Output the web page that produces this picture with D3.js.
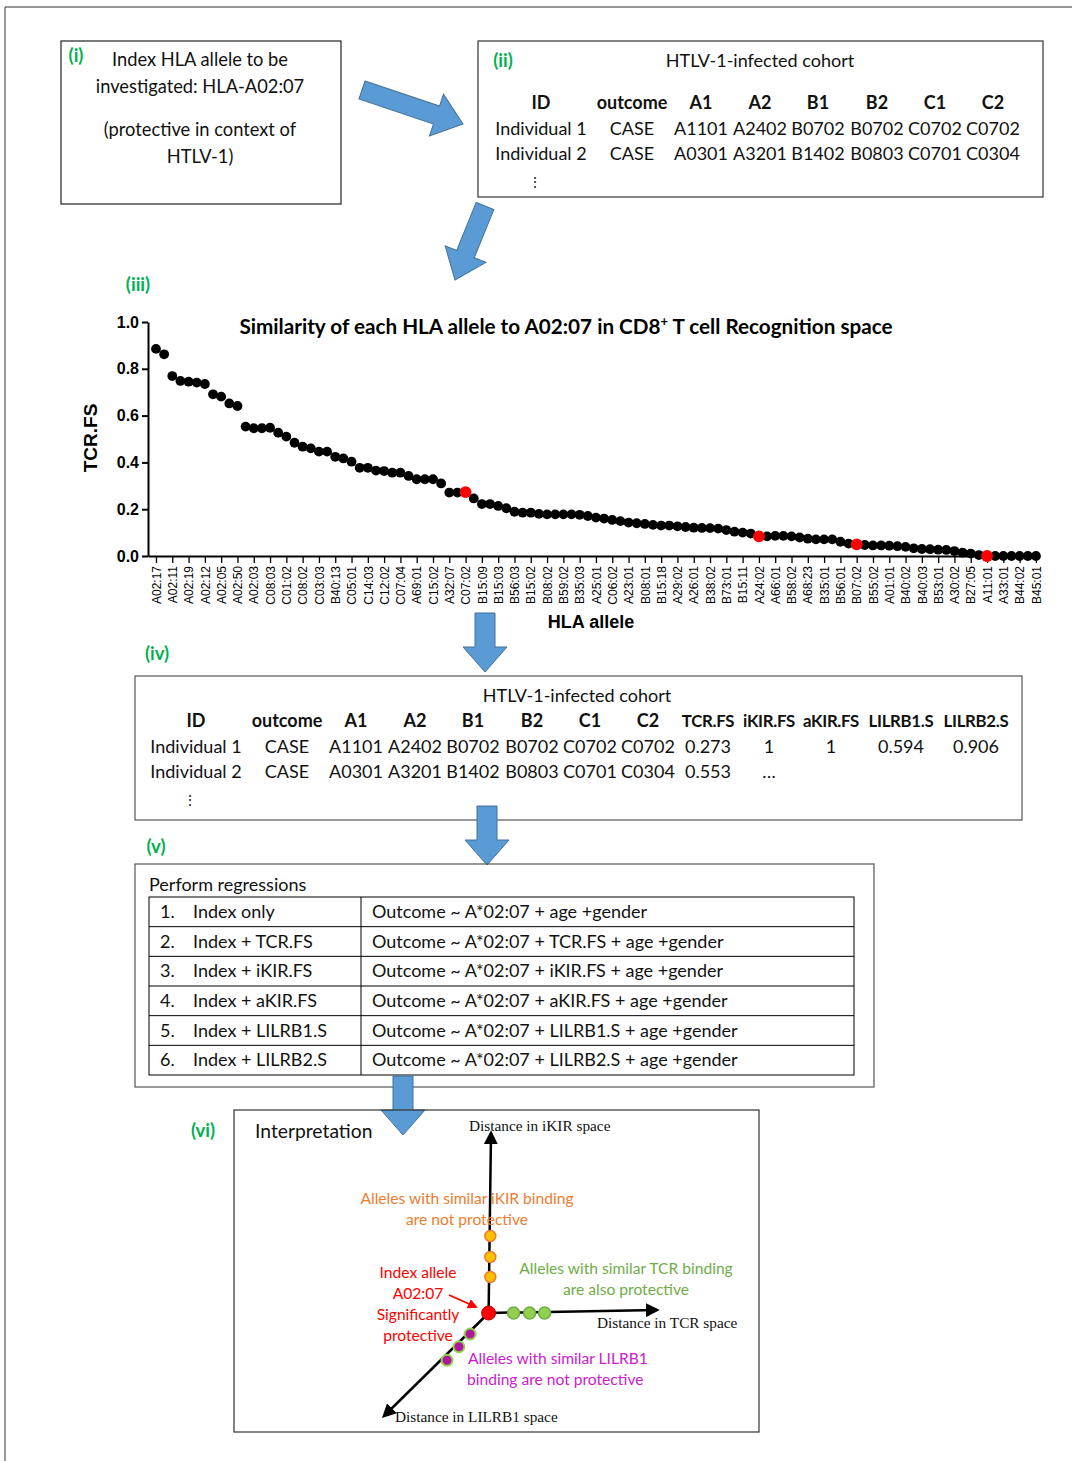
<!DOCTYPE html>
<html>
<head>
<meta charset="utf-8">
<script src="https://cdn.jsdelivr.net/npm/d3@7"></script>
<style>
  body { margin: 0; background: #fff; }
  svg { display: block; }
</style>
</head>
<body>
<div id="fig"></div>
<script>
// ---- data ----
// tick labels (one label every second allele on the x axis)
const alleleLabels = [
  "A02:17","A02:11","A02:19","A02:12","A02:05","A02:50","A02:03","C08:03","C01:02","C08:02",
  "C03:03","B40:13","C05:01","C14:03","C12:02","C07:04","A69:01","C15:02","A32:07","C07:02",
  "B15:09","B15:03","B56:03","B15:02","B08:02","B59:02","B35:03","A25:01","C06:02","A23:01",
  "B08:01","B15:18","A29:02","A26:01","B38:02","B73:01","B15:11","A24:02","A66:01","B58:02",
  "A68:23","B35:01","B56:01","B07:02","B55:02","A01:01","B40:02","B40:03","B53:01","A30:02",
  "B27:05","A11:01","A33:01","B44:02","B45:01"
];
// TCR.FS similarity to A02:07, one value per allele (sorted)
const tcrValues = [
  0.885,0.862,0.769,0.748,0.745,0.741,0.735,0.691,0.681,0.652,
  0.641,0.553,0.546,0.546,0.548,0.527,0.510,0.484,0.467,0.460,
  0.446,0.446,0.424,0.417,0.403,0.377,0.377,0.365,0.363,0.356,
  0.356,0.342,0.328,0.328,0.328,0.310,0.271,0.271,0.273,0.246,
  0.222,0.222,0.214,0.204,0.189,0.185,0.185,0.180,0.178,0.178,
  0.178,0.178,0.176,0.171,0.164,0.160,0.154,0.149,0.143,0.140,
  0.137,0.133,0.130,0.130,0.127,0.124,0.121,0.120,0.119,0.117,
  0.111,0.104,0.100,0.096,0.084,0.084,0.086,0.086,0.084,0.079,
  0.074,0.071,0.071,0.071,0.061,0.053,0.050,0.047,0.045,0.045,
  0.044,0.042,0.039,0.033,0.030,0.029,0.027,0.026,0.021,0.014,
  0.010,0.004,0.000,0.000,0.000,0.000,0.000,0.000,0.000
];
// alleles drawn in red
const highlighted = ["C07:02","A24:02","B07:02","A11:01"];
const yTicks = [0, 0.2, 0.4, 0.6, 0.8, 1.0];

const cohortCols = ["ID","outcome","A1","A2","B1","B2","C1","C2"];
const cohortRows = [
  ["Individual 1","CASE","A1101","A2402","B0702","B0702","C0702","C0702"],
  ["Individual 2","CASE","A0301","A3201","B1402","B0803","C0701","C0304"]
];
const scoreCols = ["TCR.FS","iKIR.FS","aKIR.FS","LILRB1.S","LILRB2.S"];
const scoreRows = [
  ["0.273","1","1","0.594","0.906"],
  ["0.553","…","","",""]
];
const modelNames = ["Index only","Index + TCR.FS","Index + iKIR.FS","Index + aKIR.FS","Index + LILRB1.S","Index + LILRB2.S"];
const modelFormulas = [
  "Outcome ~ A*02:07 + age +gender",
  "Outcome ~ A*02:07 + TCR.FS + age +gender",
  "Outcome ~ A*02:07 + iKIR.FS + age +gender",
  "Outcome ~ A*02:07 + aKIR.FS + age +gender",
  "Outcome ~ A*02:07 + LILRB1.S + age +gender",
  "Outcome ~ A*02:07 + LILRB2.S + age +gender"
];
// schematic (vi): distances of example alleles from the index allele
const ikirNeighbours = [36, 56, 77];
const tcrNeighbours = [25, 41, 56];
const lilrb1Neighbours = [28, 45, 63];

// ---- drawing ----
const W = 1076, H = 1461;
const SANS = "Lato, 'Open Sans', sans-serif";
const ARIAL = "'Liberation Sans', Arial, sans-serif";
const SERIF = "'Liberation Serif', 'DejaVu Serif', serif";
const GREEN = "#00b050";
const BLUE = "#5b9bd5", BLUE_DARK = "#41719c";

const svg = d3.select("#fig").append("svg")
  .attr("width", W).attr("height", H)
  .style("background", "#fff");

// figure frame (top and left only)
svg.append("path").attr("d", "M5,1461V7H1072")
  .attr("fill", "none").attr("stroke", "#333").attr("stroke-width", 1);

function txt(x, y, s, opts = {}) {
  return svg.append("text")
    .attr("x", x).attr("y", y).attr("dy", "0.35em")
    .attr("text-anchor", opts.anchor || "middle")
    .style("font-family", opts.font || SANS)
    .style("font-size", (opts.size || 18) + "px")
    .style("font-weight", opts.bold ? "bold" : "normal")
    .style("fill", opts.fill || "#111")
    .text(s);
}
function box(x, y, w, h, stroke = "#444") {
  svg.append("rect").attr("x", x).attr("y", y).attr("width", w).attr("height", h)
    .attr("fill", "none").attr("stroke", stroke).attr("stroke-width", 1.2);
}
// block arrow from tail (x1,y1) to tip (x2,y2)
function blockArrow(x1, y1, x2, y2, sw, hw, hl) {
  const len = Math.hypot(x2 - x1, y2 - y1);
  const ang = Math.atan2(y2 - y1, x2 - x1) * 180 / Math.PI;
  const s = sw / 2, h = hw / 2, b = len - hl;
  const pts = [[0, -s], [b, -s], [b, -h], [len, 0], [b, h], [b, s], [0, s]];
  svg.append("polygon")
    .attr("points", pts.map(p => p.join(",")).join(" "))
    .attr("transform", `translate(${x1},${y1}) rotate(${ang})`)
    .attr("fill", BLUE).attr("stroke", BLUE_DARK).attr("stroke-width", 1);
}

// ---------- (i) ----------
box(61, 41, 280, 163, "#222");
txt(76, 56, "(i)", { size: 18.5, bold: true, fill: GREEN });
txt(200, 60, "Index HLA allele to be", { size: 18.3 });
txt(200, 87, "investigated: HLA-A02:07", { size: 18.3 });
txt(200, 130, "(protective in context of", { size: 18.3 });
txt(200, 157, "HTLV-1)", { size: 18.3 });

// ---------- (ii) ----------
box(478, 41, 565, 156, "#333");
txt(503, 61, "(ii)", { size: 18.5, bold: true, fill: GREEN });
txt(760, 61, "HTLV-1-infected cohort");
const colX2 = [541, 632, 701, 760, 818, 877, 935, 993];
cohortCols.forEach((c, i) => txt(colX2[i], 103, c, { bold: true }));
cohortRows.forEach((r, j) => r.forEach((v, i) => txt(colX2[i], 129 + j * 25, v)));
txt(535, 182, "⋮", { size: 14 });

// arrows between panels
blockArrow(362, 90, 463, 124, 19, 44, 28);
blockArrow(485, 206, 455, 280, 19, 44, 28);

// ---------- (iii) scatter ----------
txt(138, 285, "(iii)", { size: 18.5, bold: true, fill: GREEN });

const x = d3.scaleLinear().domain([-0.98, 108.5]).range([148, 1040]);
const y = d3.scaleLinear().domain([0, 1]).range([556, 322]);
const plot = svg.append("g");

const xAxis = plot.append("g").attr("transform", `translate(0,${y(0)})`)
  .call(d3.axisBottom(x)
    .tickValues(alleleLabels.map((d, i) => i * 2))
    .tickFormat(d => alleleLabels[d / 2])
    .tickSize(7).tickSizeOuter(0));
xAxis.select(".domain").attr("stroke", "#000").attr("stroke-width", 2);
xAxis.selectAll(".tick line").attr("stroke", "#000").attr("stroke-width", 1.3);
xAxis.selectAll("text")
  .attr("transform", "rotate(-90)")
  .attr("x", -10).attr("y", 0).attr("dy", "0.35em")
  .style("text-anchor", "end")
  .style("font-family", ARIAL).style("font-size", "12px").style("fill", "#000");

const yAxis = plot.append("g").attr("transform", `translate(${x(-0.98)},0)`)
  .call(d3.axisLeft(y).tickValues(yTicks).tickFormat(d3.format(".1f"))
    .tickSize(6).tickSizeOuter(0).tickPadding(3));
yAxis.select(".domain").attr("stroke", "#000").attr("stroke-width", 2);
yAxis.selectAll(".tick line").attr("stroke", "#000").attr("stroke-width", 2);
yAxis.selectAll("text")
  .style("font-family", ARIAL).style("font-size", "16px")
  .style("font-weight", "bold").style("fill", "#000");

const redIdx = new Set(highlighted.map(a => alleleLabels.indexOf(a) * 2));
plot.selectAll(".pt").data(tcrValues).join("circle")
  .attr("class", "pt")
  .attr("cx", (d, i) => x(i)).attr("cy", d => y(d))
  .attr("r", 4.9).attr("fill", "#000");
plot.selectAll(".red").data(tcrValues.map((v, i) => ({ v, i })).filter(d => redIdx.has(d.i))).join("circle")
  .attr("class", "red")
  .attr("cx", d => x(d.i)).attr("cy", d => y(d.v))
  .attr("r", 5.9).attr("fill", "#ff0000");

// title
const title = svg.append("text").attr("x", 566).attr("y", 327).attr("dy", "0.35em")
  .attr("text-anchor", "middle")
  .style("font-family", SANS).style("font-size", "20.7px").style("font-weight", "bold").style("fill", "#000");
title.append("tspan").text("Similarity of each HLA allele to A02:07 in CD8");
title.append("tspan").attr("baseline-shift", "super").style("font-size", "13px").text("+");
title.append("tspan").text(" T cell Recognition space");

svg.append("text").attr("transform", "translate(90,438) rotate(-90)")
  .attr("dy", "0.35em").attr("text-anchor", "middle")
  .style("font-family", ARIAL).style("font-size", "19px").style("font-weight", "bold")
  .text("TCR.FS");
txt(591, 622, "HLA allele", { font: ARIAL, size: 18, bold: true, fill: "#000" });

blockArrow(485, 613, 485, 672, 20, 44, 25);

// ---------- (iv) ----------
txt(157, 654, "(iv)", { size: 18.5, bold: true, fill: GREEN });
box(135, 676, 887, 144, "#555");
txt(577, 696, "HTLV-1-infected cohort");
const colX4 = [196, 287, 356, 415, 473, 532, 590, 648, 708, 769, 831, 901, 976];
cohortCols.forEach((c, i) => txt(colX4[i], 721, c, { bold: true }));
scoreCols.forEach((c, i) => txt(colX4[i + 8], 721, c, { bold: true, size: 16.8 })
  .style("letter-spacing", "-0.3px"));
cohortRows.forEach((r, j) => r.concat(scoreRows[j]).forEach((v, i) => txt(colX4[i], 747 + j * 25, v)));
txt(190, 800, "⋮", { size: 14 });

blockArrow(487, 806, 487, 865, 20, 44, 25);

// ---------- (v) ----------
txt(156, 847, "(v)", { size: 18.5, bold: true, fill: GREEN });
box(135, 864, 739, 223, "#555");
txt(149, 885, "Perform regressions", { anchor: "start" });
const rowY = d3.scaleBand().domain(modelNames).range([897, 1075]);
const tbl = svg.append("g");
tbl.append("rect").attr("x", 149).attr("y", 897).attr("width", 705).attr("height", 178)
  .attr("fill", "none").attr("stroke", "#000").attr("stroke-width", 1);
tbl.append("line").attr("x1", 361).attr("x2", 361).attr("y1", 897).attr("y2", 1075)
  .attr("stroke", "#000");
modelNames.forEach((m, i) => {
  const y0 = rowY(m);
  if (i > 0) tbl.append("line").attr("x1", 149).attr("x2", 854).attr("y1", y0).attr("y2", y0).attr("stroke", "#000");
  const cy = y0 + rowY.bandwidth() / 2;
  txt(160, cy, (i + 1) + ".", { anchor: "start" });
  txt(193, cy, m, { anchor: "start" });
  txt(372, cy, modelFormulas[i], { anchor: "start" });
});

blockArrow(403, 1076, 403, 1135, 20, 44, 25);

// ---------- (vi) ----------
txt(203, 1131, "(vi)", { size: 18.5, bold: true, fill: GREEN });
box(234, 1110, 525, 322, "#333");
txt(255, 1131, "Interpretation", { anchor: "start", size: 19.3 });

const defs = svg.append("defs");
function marker(id, color, size) {
  defs.append("marker").attr("id", id).attr("viewBox", "0 0 10 10")
    .attr("refX", 8).attr("refY", 5).attr("markerWidth", size).attr("markerHeight", size)
    .attr("markerUnits", "userSpaceOnUse").attr("orient", "auto")
    .append("path").attr("d", "M0,0L10,5L0,10z").attr("fill", color);
}
marker("ah", "#000", 14);
marker("ahr", "#ff0000", 10);

const O = [488.6, 1313];
const axesG = svg.append("g").attr("stroke", "#000").attr("stroke-width", 2.5).attr("fill", "none");
axesG.append("line").attr("x1", O[0]).attr("y1", O[1]).attr("x2", 491).attr("y2", 1133).attr("marker-end", "url(#ah)");
axesG.append("line").attr("x1", O[0]).attr("y1", O[1]).attr("x2", 657).attr("y2", 1310).attr("marker-end", "url(#ah)");
axesG.append("line").attr("x1", O[0]).attr("y1", O[1]).attr("x2", 384).attr("y2", 1416).attr("marker-end", "url(#ah)");

txt(469, 1126, "Distance in iKIR space", { anchor: "start", font: SERIF, size: 15.3 });
txt(597, 1323, "Distance in TCR space", { anchor: "start", font: SERIF, size: 15.3 });
txt(395, 1417, "Distance in LILRB1 space", { anchor: "start", font: SERIF, size: 15.3 });

const ORANGE = "#ed7d31", LGREEN = "#70ad47", MAGENTA = "#cc1ccc";
txt(467, 1199, "Alleles with similar iKIR binding", { size: 15.6, fill: ORANGE });
txt(467, 1220, "are not protective", { size: 15.6, fill: ORANGE });
txt(626, 1269, "Alleles with similar TCR binding", { size: 15.6, fill: LGREEN });
txt(626, 1290, "are also protective", { size: 15.6, fill: LGREEN });
["Index allele", "A02:07", "Significantly", "protective"].forEach((s, i) =>
  txt(418, 1273 + i * 20.7, s, { size: 15.6, fill: "#ff0000" }));
txt(468, 1359, "Alleles with similar LILRB1", { anchor: "start", size: 15.6, fill: MAGENTA });
txt(467, 1380, "binding are not protective", { anchor: "start", size: 15.6, fill: MAGENTA });

svg.append("line").attr("x1", 449).attr("y1", 1295).attr("x2", 476).attr("y2", 1307)
  .attr("stroke", "#ff0000").attr("stroke-width", 1.8).attr("marker-end", "url(#ahr)");

const dots = svg.append("g");
dots.selectAll(".ik").data(ikirNeighbours).join("circle")
  .attr("cx", 490.3).attr("cy", d => O[1] - d).attr("r", 5.5)
  .attr("fill", "#ffc000").attr("stroke", ORANGE).attr("stroke-width", 1.5);
dots.selectAll(".tc").data(tcrNeighbours).join("circle")
  .attr("cx", d => O[0] + d).attr("cy", O[1]).attr("r", 6)
  .attr("fill", "#92d050").attr("stroke", LGREEN).attr("stroke-width", 1.5);
dots.selectAll(".lb").data(lilrb1Neighbours).join("circle")
  .attr("cx", d => O[0] - d * 0.66).attr("cy", d => O[1] + d * 0.75).attr("r", 5.5)
  .attr("fill", "#b0159f").attr("stroke", "#92d050").attr("stroke-width", 2);
dots.append("circle").attr("cx", O[0]).attr("cy", O[1]).attr("r", 7)
  .attr("fill", "#ff0000").attr("stroke", "#c00000").attr("stroke-width", 1);
</script>
</body>
</html>
